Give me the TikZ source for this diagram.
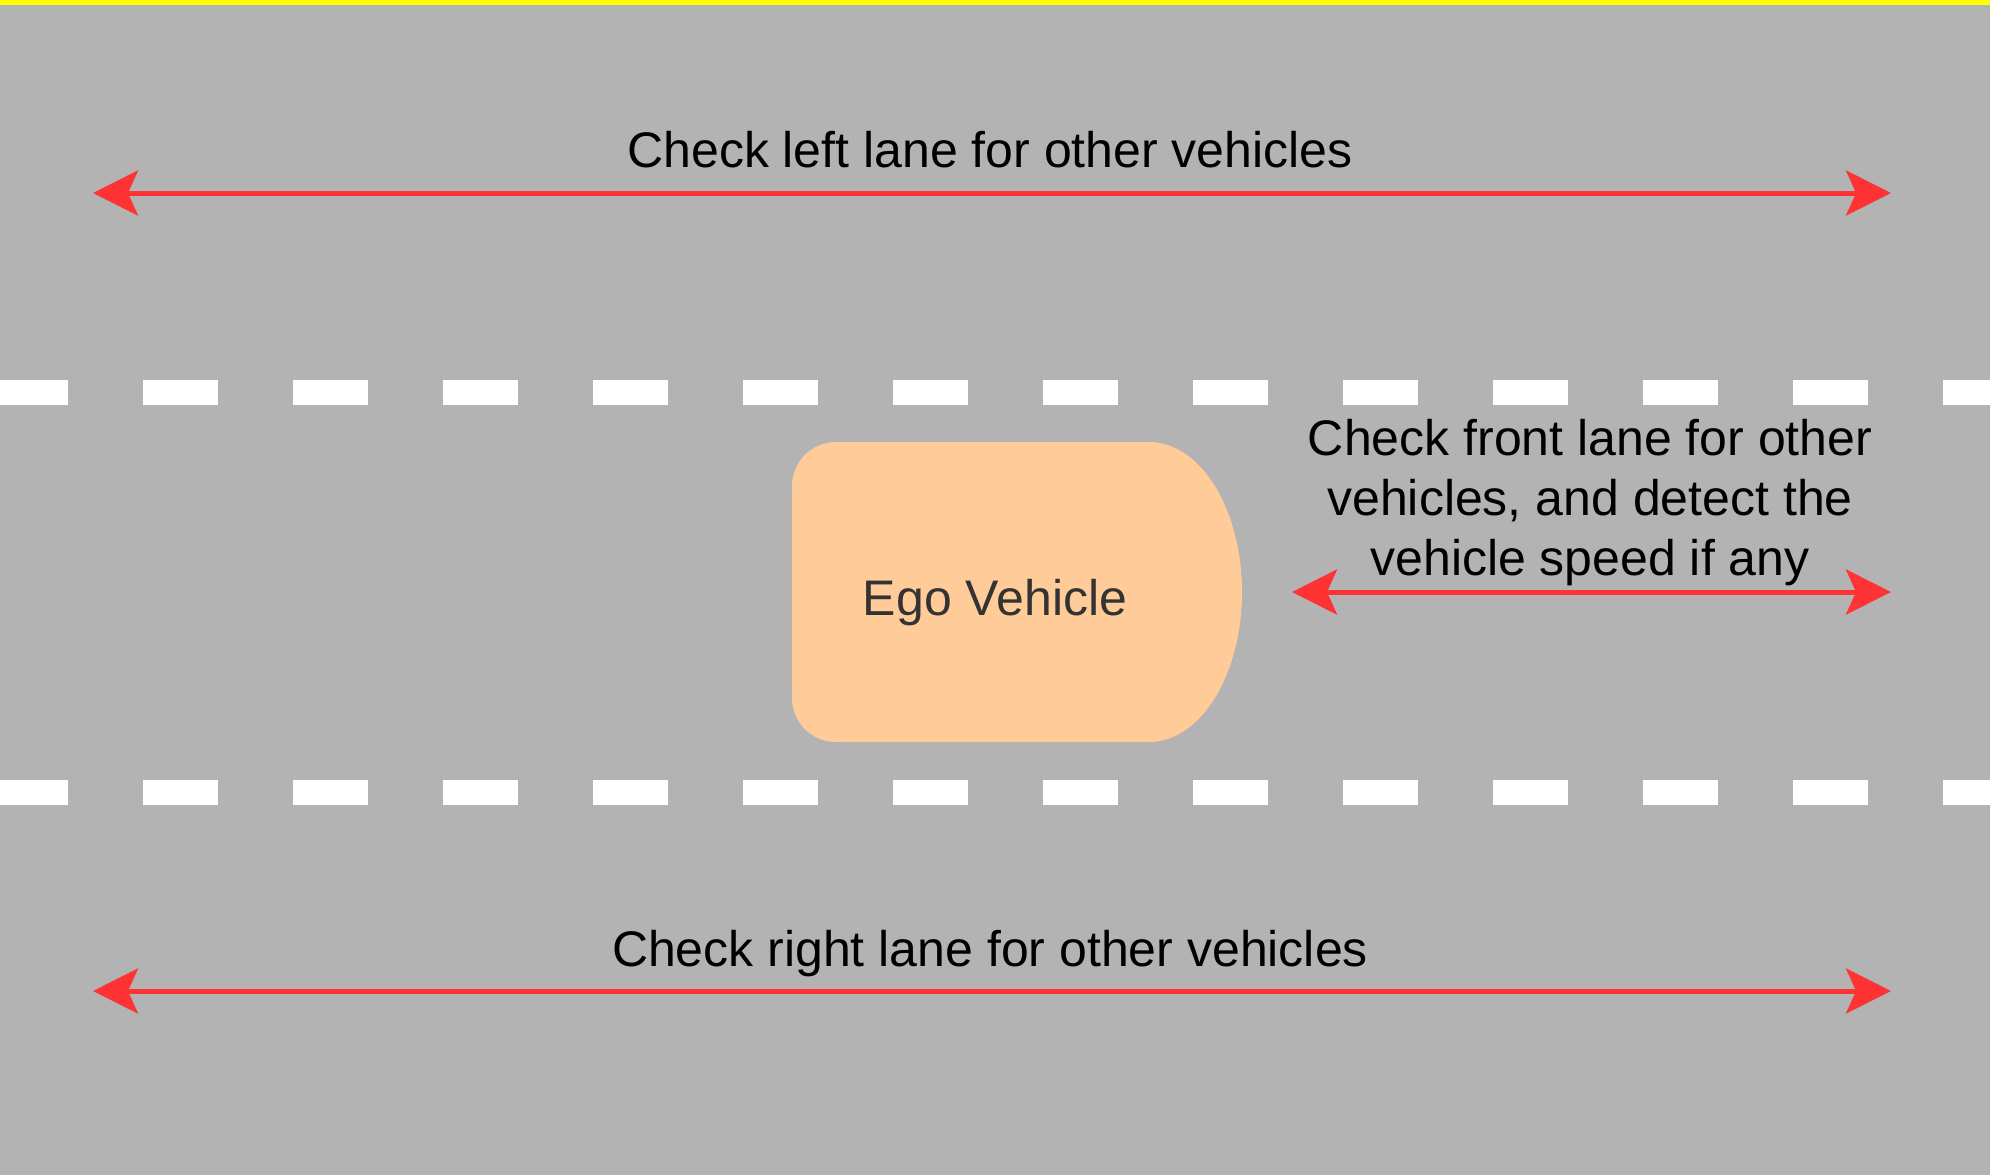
\documentclass[tikz,border=0pt]{standalone}
\usepackage{fontspec}
\setmainfont{Liberation Sans}
\usetikzlibrary{arrows.meta}
\definecolor{road}{HTML}{B3B3B3}
\definecolor{edgeyellow}{HTML}{FFFF00}
\definecolor{arrowred}{HTML}{FF3333}
\definecolor{carfill}{HTML}{FFCC99}
\definecolor{cartext}{HTML}{333333}
\tikzset{
  checkarrow/.style={draw=arrowred, line width=2.5pt,
    {Stealth[length=22.5pt,width=22.5pt,inset=5pt]}-{Stealth[length=22.5pt,width=22.5pt,inset=5pt]}},
  lbl/.style={inner sep=0pt, outer sep=0pt, anchor=base, text=black,
    font=\fontsize{25pt}{30pt}\selectfont},
  dashmark/.style={fill=white},
}
\begin{document}
\begin{tikzpicture}[x=0.5pt,y=-0.5pt]
\useasboundingbox (0,0) rectangle (1990,1175);
\fill[road] (0,0) rectangle (1990,1175);
\fill[edgeyellow] (0,0) rectangle (1990,5);
% lane markings
\foreach \i in {0,...,13} {
  \fill[dashmark] ({-7+150*\i},380) rectangle ++(75,25);
  \fill[dashmark] ({-7+150*\i},780) rectangle ++(75,25);
}
% ego vehicle
\fill[carfill] (1149,442) arc[start angle=90,end angle=-90,x radius=46.5pt,y radius=75pt]
  [rounded corners=22pt] -- (792,742) -- (792,442) [sharp corners] -- cycle;
\node[lbl, text=cartext] (ego) at (995,615) {Ego Vehicle};
% left lane check
\coordinate (l1) at (93,193);
\coordinate (l2) at (1891,193);
\draw[checkarrow] (l1) -- (l2);
\node[lbl] (leftlbl) at (990,167) {Check left lane for other vehicles};
% front lane check
\coordinate (f1) at (1292,592);
\coordinate (f2) at (1891,592);
\draw[checkarrow] (f1) -- (f2);
\node[lbl] (front1) at (1590,455) {Check front lane for other};
\node[lbl] (front2) at (1590,515) {vehicles, and detect the};
\node[lbl] (front3) at (1590,575) {vehicle speed if any};
% right lane check
\coordinate (r1) at (93,991);
\coordinate (r2) at (1891,991);
\draw[checkarrow] (r1) -- (r2);
\node[lbl] (rightlbl) at (990,966) {Check right lane for other vehicles};
\end{tikzpicture}
\end{document}
